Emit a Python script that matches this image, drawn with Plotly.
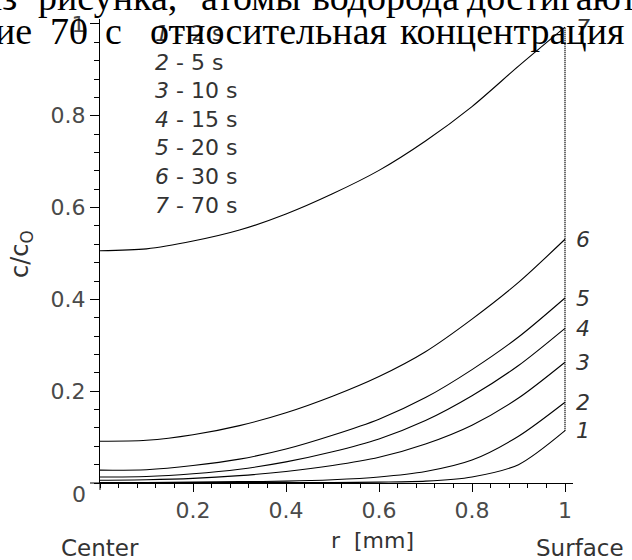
import plotly.graph_objects as go

# ---------------- data ----------------
r = [0.0, 0.1, 0.2, 0.3, 0.4, 0.5, 0.6, 0.7, 0.8, 0.9, 1.0]
c1 = [0.001, 0.001, 0.001, 0.001, 0.001, 0.001, 0.002, 0.004, 0.013, 0.040, 0.114]
c2 = [0.001, 0.001, 0.002, 0.003, 0.004, 0.007, 0.013, 0.025, 0.050, 0.102, 0.176]
c3 = [0.006, 0.007, 0.010, 0.016, 0.025, 0.038, 0.056, 0.085, 0.126, 0.185, 0.263]
c4 = [0.013, 0.014, 0.020, 0.030, 0.046, 0.068, 0.096, 0.136, 0.190, 0.256, 0.337]
c5 = [0.028, 0.029, 0.038, 0.052, 0.074, 0.104, 0.139, 0.186, 0.247, 0.318, 0.403]
c6 = [0.091, 0.093, 0.105, 0.125, 0.153, 0.189, 0.232, 0.286, 0.357, 0.437, 0.531]
c7 = [0.506, 0.510, 0.527, 0.551, 0.586, 0.630, 0.681, 0.745, 0.820, 0.908, 0.993]
curves = [c1, c2, c3, c4, c5, c6, c7]
curve_ids = ["1", "2", "3", "4", "5", "6", "7"]
times = ["2 s", "5 s", "10 s", "15 s", "20 s", "30 s", "70 s"]

x_tickvals = [0.2, 0.4, 0.6, 0.8, 1.0]
x_ticktext = ["0.2", "0.4", "0.6", "0.8", "1"]
y_tickvals = [0.2, 0.4, 0.6, 0.8, 1.0]
y_ticktext = ["0.2", "0.4", "0.6", "0.8", "1"]

# ---------------- layout geometry (pixels) ----------------
W, H = 632, 560
L, R, T, B = 100, 59, 13, 77
PW, PH = W - L - R, H - T - B


def px(xp):
    return (xp - L) / PW


def py(yp):
    return (H - B - yp) / PH


SANS = "DejaVu Sans"
SERIF = "Liberation Serif, Times New Roman, serif"
TICK_COL = "#4a4a4a"
TXT_COL = "#333333"

fig = go.Figure()

for cv in curves:
    fig.add_trace(go.Scatter(x=r, y=cv, mode="lines",
                             line=dict(color="black", width=1.1, shape="spline", smoothing=0.8),
                             hoverinfo="skip", showlegend=False))

# dotted surface line at r = 1
fig.add_trace(go.Scatter(x=[r[-1], r[-1]], y=[c1[-1], c7[-1]], mode="lines",
                         line=dict(color="black", width=1.5, dash="1px,1px"),
                         hoverinfo="skip", showlegend=False))

annotations = []

# curve labels at the right end
for cid, cv in zip(curve_ids, curves):
    annotations.append(dict(x=r[-1], y=cv[-1], xref="x", yref="y", text="<i>%s</i>" % cid,
                            showarrow=False, xshift=18, xanchor="center", yanchor="middle",
                            font=dict(family=SANS, size=22, color=TXT_COL)))

# legend block
legend_lines = ["<i>%s</i>&nbsp;-&nbsp;%s" % (cid, t.replace(" ", "&nbsp;"))
                for cid, t in zip(curve_ids, times)]
annotations.append(dict(x=px(153), y=py(115), xref="paper", yref="paper",
                        text="<br>".join(legend_lines), align="left",
                        showarrow=False, xanchor="left", yanchor="middle",
                        font=dict(family=SANS, size=22, color=TXT_COL)))

# origin "0" label
annotations.append(dict(x=px(79), y=py(495), xref="paper", yref="paper", text="0",
                        showarrow=False, xanchor="center", yanchor="middle",
                        font=dict(family=SANS, size=22, color=TICK_COL)))

# y axis title
annotations.append(dict(x=px(22), y=py(251), xref="paper", yref="paper",
                        text="c/c<sub>O</sub>", textangle=-90,
                        showarrow=False, xanchor="center", yanchor="middle",
                        font=dict(family=SANS, size=24, color=TXT_COL)))

# bottom labels
annotations.append(dict(x=px(372), y=py(541), xref="paper", yref="paper", text="r  [mm]",
                        showarrow=False, xanchor="center", yanchor="middle",
                        font=dict(family=SANS, size=22, color=TXT_COL)))
annotations.append(dict(x=px(59), y=py(549), xref="paper", yref="paper", text="Center",
                        showarrow=False, xanchor="left", yanchor="middle",
                        font=dict(family=SANS, size=23, color=TXT_COL)))
annotations.append(dict(x=px(534), y=py(549), xref="paper", yref="paper", text="Surface",
                        showarrow=False, xanchor="left", yanchor="middle",
                        font=dict(family=SANS, size=23, color=TXT_COL)))

# surrounding Russian page text (partly cut off)
line1 = [("из", 19, "right"), ("рисунка,", 36, "left"), ("атомы", 199, "left"),
         ("водорода", 310, "left"), ("достигают", 465, "left")]
line2 = [("ие", 34, "right"), ("70", 48, "left"), ("с", 103, "left"),
         ("относительная", 148, "left"), ("концентрация", 398, "left")]
for words, cy in ((line1, -9), (line2, 25)):
    for w, xx, anc in words:
        annotations.append(dict(x=px(xx), y=py(cy), xref="paper", yref="paper", text=w,
                                showarrow=False, xanchor=anc, yanchor="middle",
                                font=dict(family=SERIF, size=38, color="black")))

axis_common = dict(showgrid=False, zeroline=False, showline=True, linecolor="black",
                   linewidth=1, ticks="outside", tickcolor="black", tickwidth=1,
                   tickfont=dict(family=SANS, size=22, color=TICK_COL), fixedrange=True)

fig.update_layout(
    width=W, height=H,
    margin=dict(l=L, r=R, t=T, b=B, pad=0),
    paper_bgcolor="white", plot_bgcolor="white",
    showlegend=False,
    xaxis=dict(range=[0, (W - R - L) / 465], tickmode="array", tickvals=x_tickvals,
               ticktext=x_ticktext, ticklen=8,
               minor=dict(ticks="outside", ticklen=4, tick0=0, dtick=0.04,
                          tickcolor="black", tickwidth=1),
               **axis_common),
    yaxis=dict(range=[0, (H - B - T) / 465], tickmode="array", tickvals=y_tickvals,
               ticktext=y_ticktext, ticklen=9,
               minor=dict(ticks="outside", ticklen=5, tick0=0, dtick=0.04,
                          tickcolor="black", tickwidth=1),
               **axis_common),
    annotations=annotations,
    shapes=[
        dict(type="line", xref="paper", yref="paper", x0=px(90), x1=0, y0=0, y1=0,
             line=dict(color="black", width=1)),
        dict(type="line", xref="paper", yref="paper", x0=0, x1=0, y0=py(490), y1=0,
             line=dict(color="black", width=1)),
    ],
)

fig.write_html("out.html", config={"displayModeBar": False},
               post_script="document.body.style.margin='0';document.body.style.overflow='hidden';")
